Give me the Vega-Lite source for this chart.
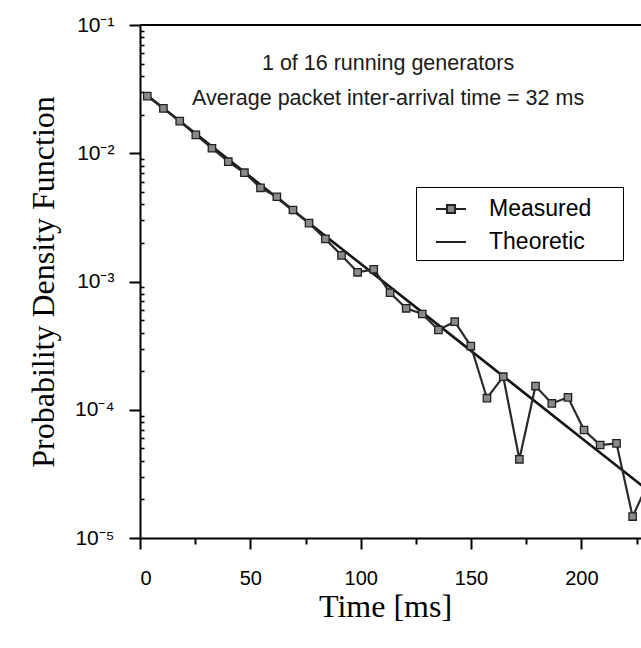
{
  "$schema": "https://vega.github.io/schema/vega-lite/v6.json",
  "autosize": {"type": "none"},
  "padding": {"left": 140, "top": 25, "right": 0, "bottom": 110},
  "width": 501,
  "height": 513,
  "background": "white",
  "config": {"view": {"stroke": null}, "axis": {"ticks": true, "tickOpacity": 1}},
  "data": {"values": [
    {"series": "Measured", "t": 3.3, "p": 0.0279},
    {"series": "Measured", "t": 10.6, "p": 0.0224},
    {"series": "Measured", "t": 18.0, "p": 0.0178},
    {"series": "Measured", "t": 25.3, "p": 0.0139},
    {"series": "Measured", "t": 32.6, "p": 0.01094},
    {"series": "Measured", "t": 40.0, "p": 0.00859},
    {"series": "Measured", "t": 47.3, "p": 0.00705},
    {"series": "Measured", "t": 54.6, "p": 0.00538},
    {"series": "Measured", "t": 62.0, "p": 0.00458},
    {"series": "Measured", "t": 69.3, "p": 0.00361},
    {"series": "Measured", "t": 76.6, "p": 0.00285},
    {"series": "Measured", "t": 84.0, "p": 0.00215},
    {"series": "Measured", "t": 91.3, "p": 0.0016},
    {"series": "Measured", "t": 98.6, "p": 0.00118},
    {"series": "Measured", "t": 105.9, "p": 0.001245},
    {"series": "Measured", "t": 113.3, "p": 0.000818},
    {"series": "Measured", "t": 120.6, "p": 0.000618},
    {"series": "Measured", "t": 127.9, "p": 0.000558},
    {"series": "Measured", "t": 135.2, "p": 0.000419},
    {"series": "Measured", "t": 142.6, "p": 0.000486},
    {"series": "Measured", "t": 149.9, "p": 0.000314},
    {"series": "Measured", "t": 157.2, "p": 0.000123},
    {"series": "Measured", "t": 164.6, "p": 0.000181},
    {"series": "Measured", "t": 171.9, "p": 0.0000411},
    {"series": "Measured", "t": 179.2, "p": 0.000153},
    {"series": "Measured", "t": 186.6, "p": 0.000112},
    {"series": "Measured", "t": 193.9, "p": 0.000125},
    {"series": "Measured", "t": 201.2, "p": 0.0000695},
    {"series": "Measured", "t": 208.5, "p": 0.0000531},
    {"series": "Measured", "t": 215.9, "p": 0.0000547},
    {"series": "Measured", "t": 223.2, "p": 0.0000147},
    {"series": "Measured", "t": 230.5, "p": 0.0000275},
    {"series": "Theoretic", "t": 3.3, "p": 0.02819},
    {"series": "Theoretic", "t": 50, "p": 0.00655},
    {"series": "Theoretic", "t": 100, "p": 0.001373},
    {"series": "Theoretic", "t": 150, "p": 0.0002878},
    {"series": "Theoretic", "t": 200, "p": 0.00006031},
    {"series": "Theoretic", "t": 230, "p": 0.00002362}
  ]},
  "resolve": {"scale": {"x": "shared", "y": "shared"}, "axis": {"x": "independent", "y": "independent"}},
  "layer": [
    {
      "transform": [{"filter": "datum.series === 'Theoretic'"}],
      "mark": {"type": "line", "color": "#151515", "strokeWidth": 2.6, "clip": true},
      "encoding": {
        "x": {
          "field": "t", "type": "quantitative",
          "scale": {"domain": [0, 227], "nice": false, "zero": false},
          "axis": {"orient": "bottom", "title": null, "values": [25, 75, 125, 175, 225], "labels": false, "domain": false, "grid": false,
                   "ticks": true, "tickSize": 6, "tickColor": "black", "tickWidth": 2, "offset": 0}
        },
        "y": {
          "field": "p", "type": "quantitative",
          "scale": {"type": "log", "domain": [0.00001, 0.1], "nice": false},
          "axis": {"orient": "left", "title": null, "labels": false, "domain": false, "grid": false,
                   "ticks": true, "tickSize": -4, "tickColor": "black", "tickWidth": 1.6, "offset": 0,
                   "values": [0.00002, 0.00003, 0.00004, 0.00005, 0.00006, 0.00007, 0.00008, 0.00009,
                              0.0002, 0.0003, 0.0004, 0.0005, 0.0006, 0.0007, 0.0008, 0.0009,
                              0.002, 0.003, 0.004, 0.005, 0.006, 0.007, 0.008, 0.009,
                              0.02, 0.03, 0.04, 0.05, 0.06, 0.07, 0.08, 0.09]}
        }
      }
    },
    {
      "transform": [{"filter": "datum.series === 'Measured'"}],
      "mark": {"type": "line", "color": "#2a2a2a", "strokeWidth": 2.2, "clip": true},
      "encoding": {
        "x": {
          "field": "t", "type": "quantitative",
          "scale": {"domain": [0, 227], "nice": false, "zero": false},
          "axis": {
            "orient": "bottom", "offset": 0,
            "title": "Time [ms]",
            "titleFont": "Liberation Serif", "titleFontSize": 32, "titleFontWeight": "normal", "titleColor": "black",
            "titlePadding": 3, "titleX": 245,
            "values": [0, 50, 100, 150, 200],
            "labelFont": "Liberation Sans", "labelFontSize": 20, "labelColor": "black", "labelPadding": 19,
            "ticks": true, "tickSize": 11, "tickColor": "black", "tickWidth": 2,
            "domainColor": "black", "domainWidth": 2, "grid": false
          }
        },
        "y": {
          "field": "p", "type": "quantitative",
          "scale": {"type": "log", "domain": [0.00001, 0.1], "nice": false},
          "axis": {
            "orient": "left", "offset": 0,
            "title": "Probability Density Function",
            "titleFont": "Liberation Serif", "titleFontSize": 32, "titleFontWeight": "normal", "titleColor": "black",
            "titlePadding": 14,
            "values": [0.00001, 0.0001, 0.001, 0.01, 0.1],
            "labelExpr": "datum.value === 0.1 ? '10⁻¹' : datum.value === 0.01 ? '10⁻²' : datum.value === 0.001 ? '10⁻³' : datum.value === 0.0001 ? '10⁻⁴' : '10⁻⁵'",
            "labelFont": "Liberation Sans", "labelFontSize": 21, "labelColor": "black", "labelPadding": 15,
            "ticks": true, "tickSize": 11, "tickColor": "black", "tickWidth": 2,
            "domainColor": "black", "domainWidth": 2, "grid": false
          }
        }
      }
    },
    {
      "transform": [{"filter": "datum.series === 'Measured'"}],
      "mark": {"type": "square", "size": 55, "filled": true, "fill": "#8a8a8a", "stroke": "#222", "strokeWidth": 1.3, "opacity": 1, "clip": true},
      "encoding": {
        "x": {"field": "t", "type": "quantitative", "axis": null},
        "y": {"field": "p", "type": "quantitative", "axis": null}
      }
    },
    {
      "mark": {"type": "point", "filled": false, "fill": "#8a8a8a", "stroke": "#222", "strokeWidth": 2, "opacity": 0},
      "encoding": {
        "x": {"field": "t", "type": "quantitative", "axis": null},
        "y": {"field": "p", "type": "quantitative", "axis": null},
        "shape": {
          "field": "series", "type": "nominal",
          "scale": {"domain": ["Measured", "Theoretic"], "range": ["M-1,0H-0.27M0.27,0H1M-0.27,-0.27H0.27V0.27H-0.27Z", "M-1,0H1"]},
          "legend": {
            "title": null, "orient": "none", "legendX": 276, "legendY": 162,
            "strokeColor": "black", "fillColor": "white",
            "padding": 6, "rowPadding": 5, "symbolOffset": 13, "symbolSize": 900,
            "labelOffset": 22, "labelFont": "Liberation Sans", "labelFontSize": 23, "labelColor": "black",
            "labelExpr": "datum.label + '    \u200b'",
            "symbolStrokeWidth": 2, "symbolOpacity": 1
          }
        }
      }
    },
    {
      "data": {"values": [{}]},
      "mark": {"type": "rule", "color": "black", "strokeWidth": 2},
      "encoding": {"y": {"datum": 0.1, "axis": null}}
    },
    {
      "data": {"values": [{}]},
      "mark": {"type": "text", "font": "Liberation Sans", "fontSize": 21.5, "color": "#1a1a1a", "align": "center", "baseline": "alphabetic", "lineHeight": 35},
      "encoding": {
        "x": {"datum": 112.4, "axis": null},
        "y": {"datum": 0.0446, "axis": null},
        "text": {"value": ["1 of 16 running generators", "Average packet inter-arrival time = 32 ms"]}
      }
    }
  ]
}
